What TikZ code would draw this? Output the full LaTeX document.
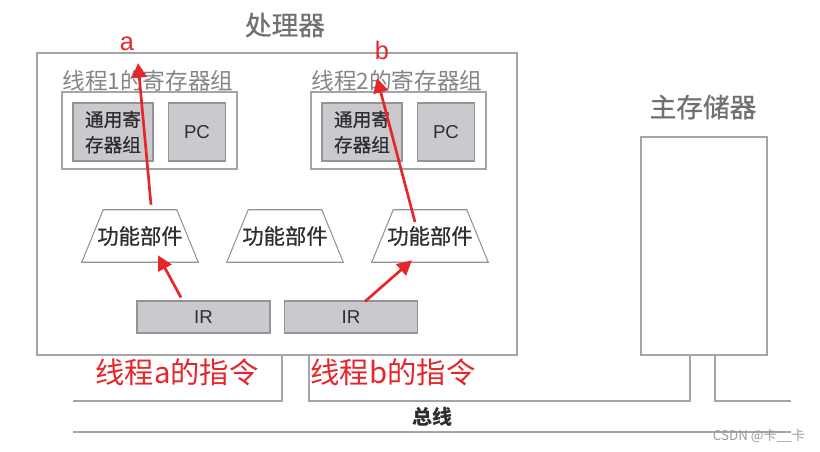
\documentclass[tikz,border=0pt]{standalone}
\usepackage{fontspec}
\setmainfont{Noto Sans CJK SC}
\newfontfamily\latinsans{Liberation Sans}
\newfontfamily\cjkmed[FakeBold=0.7]{Noto Sans CJK SC}
\usetikzlibrary{arrows.meta,positioning,shapes.geometric}
\definecolor{cpured}{HTML}{E5262A}
\definecolor{cpugray}{HTML}{707073}
\definecolor{cpuline}{HTML}{A5A5A8}
\definecolor{cpufill}{HTML}{CBC9CE}
\definecolor{cpudark}{HTML}{2E2E30}
\tikzset{
  outerbox/.style  = {rectangle, draw=cpuline, line width=0.9pt, fill=white, inner sep=0pt},
  regbox/.style    = {rectangle, draw=cpugray!75, line width=0.8pt, fill=cpufill, inner sep=0pt,
                      align=center, font=\fontsize{14}{19}\selectfont\cjkmed\color{cpudark}},
  futext/.style    = {rectangle, minimum width=87pt, minimum height=39pt, inner sep=0pt,
                      font=\fontsize{16}{18}\selectfont\cjkmed\color{cpudark}},
  fuline/.style    = {draw=cpugray!75, line width=0.8pt},
  irbox/.style     = {regbox, minimum width=99.75pt, minimum height=24pt,
                      font=\fontsize{14}{16}\selectfont\latinsans\color{cpudark}},
  titletext/.style = {font=\fontsize{20}{22}\selectfont\cjkmed\color{cpugray}},
  grplbl/.style    = {font=\fontsize{17}{19}\selectfont\color{cpugray!85}},
  redlbl/.style    = {font=\fontsize{22}{24}\selectfont\color{cpured}},
  redletter/.style = {font=\fontsize{19}{21}\selectfont\latinsans\color{cpured}},
  redarrow/.style  = {-{Triangle[length=11pt,width=11pt]}, line width=2pt, cpured},
  busline/.style   = {draw=cpuline, line width=0.9pt},
  bustext/.style   = {font=\fontsize{15}{17}\selectfont\bfseries\color{cpudark}},
  wmark/.style     = {font=\fontsize{10}{11}\selectfont\color{cpugray!70}},
}

\begin{document}
\begin{tikzpicture}[x=0.75pt,y=-0.75pt]
\useasboundingbox (0,0) rectangle (820,451);

% Processor
\node[outerbox, minimum width=360pt, minimum height=226.5pt] (proc) at (277,204) {};
\node[titletext] (proct) at (285,25) {处理器};

% Register groups of the two threads
\foreach \i/\gx in {1/0, 2/249} {
  \node[outerbox, minimum width=131.25pt, minimum height=57.75pt] (grp\i) at ({149.5+\gx},130.5) {};
  \node[grplbl] (grp\i t) at ({148+\gx},81) {线程\i 的寄存器组};
  \node[regbox, minimum width=60pt, minimum height=43.5pt] (gpr\i) at ({113+\gx},132) {通用寄\\存器组};
  \node[regbox, minimum width=42.5pt, minimum height=43.5pt,
        font=\fontsize{14}{16}\selectfont\latinsans\color{cpudark}] (pc\i) at ({197+\gx},132) {PC};
}

% Function units (trapezia)
\foreach \i/\fx in {1/140, 2/285, 3/430} {
  \node[futext] (fu\i) at (\fx,236) {功能部件};
  \draw[fuline] ([xshift=16.1pt]fu\i.north west) -- ([xshift=-16.1pt]fu\i.north east)
    -- (fu\i.south east) -- (fu\i.south west) -- cycle;
}

% Instruction registers
\node[irbox] (ir1) at (203.5,317) {IR};
\node[irbox] (ir2) at (351,317) {IR};

% Main memory
\node[outerbox, minimum width=94.5pt, minimum height=163.5pt] (mem) at (704,246) {};
\node[titletext] (memt) at (703,107) {主存储器};

% Bus
\draw[busline] (73,401) -| (282,355);
\draw[busline] (309,355) |- (690,401) -- (690,355);
\draw[busline] (715,355) |- (791,401);
\draw[busline] (73,432) -- (791,432);
\node[bustext] (bus) at (432,417) {总线};

% Thread instructions
\node[redlbl] (insa) at (177,372) {线程a的指令};
\node[redlbl] (insb) at (393,372) {线程b的指令};

% Red arrows
\node[redletter] (la) at (127,44) {a};
\node[redletter] (lb) at (382,50) {b};
\coordinate (tipa) at (138,63);
\coordinate (tipb) at (377,78);
\draw[redarrow] ([xshift=-16.9pt,yshift=2.25pt]ir1.north) -- ([xshift=13.5pt,yshift=5.25pt]fu1.south);
\draw[redarrow] ([xshift=10.5pt,yshift=-0.75pt]ir2.north) -- ([xshift=-13.5pt,yshift=1.5pt]fu3.south);
\draw[redarrow] ([xshift=8.25pt,yshift=3.75pt]fu1.north) -- (tipa);
\draw[redarrow] ([xshift=-11.25pt,yshift=10.5pt]fu3.center) -- (tipb);

\node[wmark] (wm) at (759,436) {CSDN @卡\_\_卡};
\end{tikzpicture}
\end{document}
